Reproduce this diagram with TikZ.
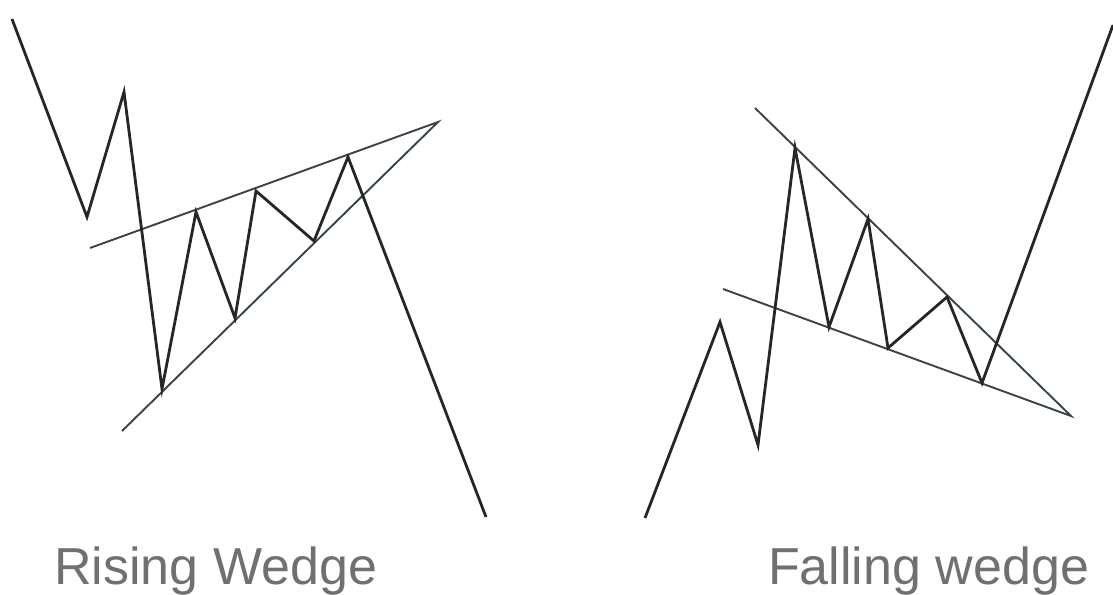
\documentclass[tikz,border=0pt]{standalone}
\usepackage{fontspec}
\setmainfont{Liberation Sans}
\definecolor{pricec}{HTML}{262626}
\definecolor{trendc}{HTML}{37434D}
\definecolor{labelc}{HTML}{707070}
\begin{document}
\begin{tikzpicture}[x=1pt,y=-1pt,
  price/.style={draw=pricec,line width=2.8pt,line join=miter,line cap=butt},
  trend/.style={draw=trendc,line width=1.9pt,line cap=butt},
  lbl/.style={text=labelc,font=\fontsize{52}{56}\selectfont,inner sep=0pt,anchor=base west}]
\useasboundingbox[fill=white] (0,0) rectangle (1113,594);
% Rising wedge
\coordinate (r0) at (12,19);
\coordinate (r1) at (87,217);
\coordinate (r2) at (124,92);
\coordinate (r3) at (162,389);
\coordinate (r4) at (196,212);
\coordinate (r5) at (235,318);
\coordinate (r6) at (256,191);
\coordinate (r7) at (314,241);
\coordinate (r8) at (348,157);
\coordinate (r9) at (486,517);
\coordinate (ru0) at (90,248);
\coordinate (rapex) at (438,122);
\coordinate (rl0) at (122,431);
\draw[trend] (ru0) -- (rapex) -- (rl0);
\draw[price] (r0) -- (r1) -- (r2) -- (r3) -- (r4) -- (r5) -- (r6) -- (r7) -- (r8) -- (r9);
% Falling wedge
\coordinate (f0) at (645,518);
\coordinate (f1) at (720,322);
\coordinate (f2) at (758,445);
\coordinate (f3) at (795,148);
\coordinate (f4) at (829,327);
\coordinate (f5) at (868,219);
\coordinate (f6) at (888,348);
\coordinate (f7) at (947,297);
\coordinate (f8) at (982,383);
\coordinate (f9) at (1113,25);
\coordinate (fu0) at (755,108);
\coordinate (fapex) at (1071,416);
\coordinate (fl0) at (723,289);
\draw[trend] (fu0) -- (fapex) -- (fl0);
\draw[price] (f0) -- (f1) -- (f2) -- (f3) -- (f4) -- (f5) -- (f6) -- (f7) -- (f8) -- (f9);
% Labels
\node[lbl] (rlabel) at (54,584) {Rising Wedge};
\node[lbl] (flabel) at (768,584) {Falling wedge};
\end{tikzpicture}
\end{document}
